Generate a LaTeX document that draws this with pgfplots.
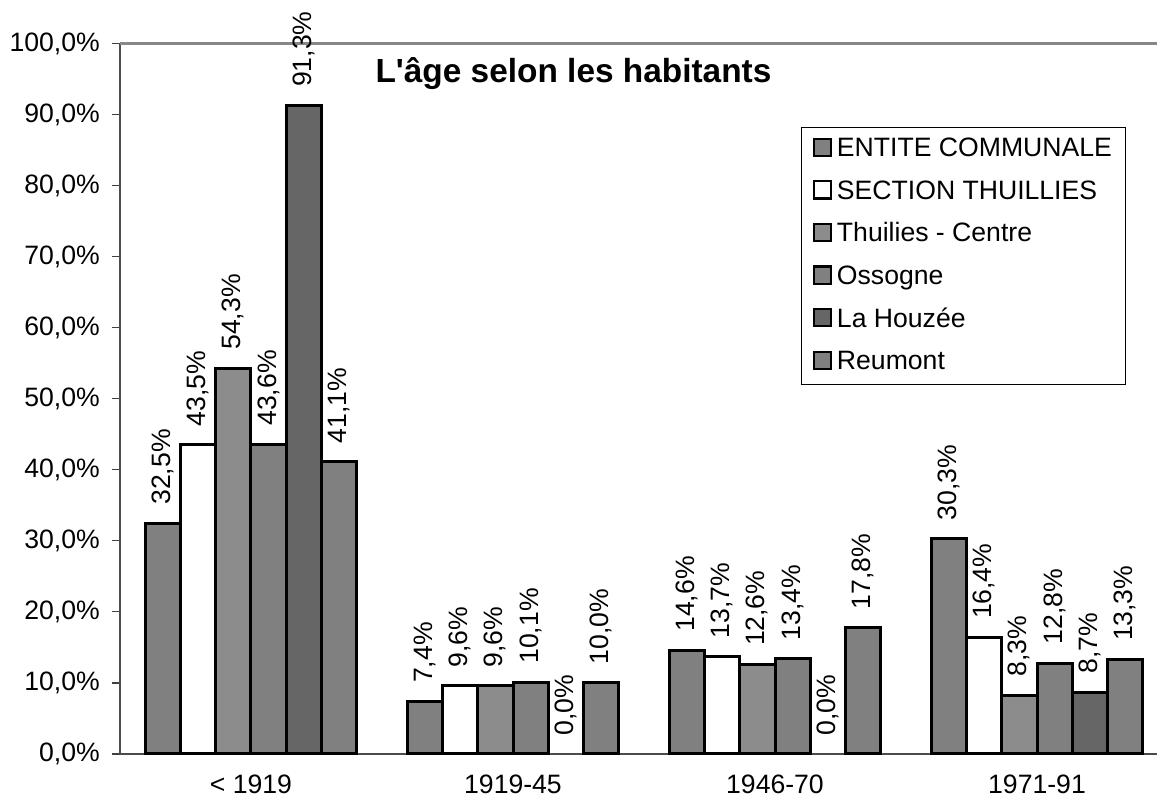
\documentclass[border=0pt]{standalone}
\usepackage{pgfplots}
\pgfplotsset{compat=1.18}
\usepackage{fontspec}
\setmainfont{Liberation Sans}
\definecolor{cA}{HTML}{808080}
\definecolor{cC}{HTML}{8C8C8C}
\definecolor{cD}{HTML}{666666}
\definecolor{topline}{HTML}{888888}
\newcommand{\lblfont}{\fontsize{13.3}{16}\selectfont}

\pgfplotsset{
  mybar/.style={
    ybar, bar width=17.65pt, draw=black, line width=1.5pt, bar shift=#1,
    nodes near coords={\pgfmathprintnumber[fixed,fixed zerofill,precision=1,use comma]{\pgfplotspointmeta}\%},
    every node near coord/.append style={xshift=#1, font=\lblfont, text=black, rotate=90, anchor=west, inner xsep=8.5pt, inner ysep=0pt},
    legend image code/.code={\draw[##1,draw=black,line width=1.1pt] (0pt,-3.1pt) rectangle (8.6pt,5.5pt);}
  }
}

\begin{document}
\begin{tikzpicture}
\begin{axis}[
  scale only axis,
  width=518.5pt, height=355.25pt,
  xmin=-0.5, xmax=3.458,
  ymin=0, ymax=100,
  clip=false,
  /pgf/number format/assume math mode=true,
  axis x line*=bottom, axis y line*=left,
  axis line style={-, draw=black!70, line width=0.6pt},
  tick align=outside,
  major tick length=4pt,
  tick style={draw=black!75, line width=0.6pt},
  ytick={0,10,...,100},
  yticklabel={\pgfmathprintnumber[fixed,fixed zerofill,precision=1,use comma]{\tick}\%},
  yticklabel style={font=\lblfont, xshift=-2.6pt},
  xtick={0,1,2,3},
  xticklabels={< 1919,1919-45,1946-70,1971-91},
  x tick style={draw=none},
  xticklabel style={font=\lblfont, yshift=-5.5pt, inner ysep=1pt},
  extra x ticks={-0.5,0.5,1.5,2.5},
  extra x tick labels={},
  extra x tick style={tick align=center, major tick length=8.5pt},
  legend cell align=left,
  legend style={at={(0.6567,0.8825)}, anchor=north west, draw=black, line width=0.6pt,
    fill=white, font=\lblfont, inner xsep=5.5pt, inner ysep=3.5pt,
    nodes={inner sep=1.5pt, text height=9.6pt, text depth=2.5pt},
    row sep=6.2pt, column sep=1pt},
]
\addplot[mybar=-44.125pt, fill=cA] coordinates {(0,32.5) (1,7.4) (2,14.6) (3,30.3)};
\addlegendentry{ENTITE COMMUNALE}
\addplot[mybar=-26.475pt, fill=white] coordinates {(0,43.5) (1,9.6) (2,13.7) (3,16.4)};
\addlegendentry{SECTION THUILLIES}
\addplot[mybar=-8.825pt, fill=cC] coordinates {(0,54.3) (1,9.6) (2,12.6) (3,8.3)};
\addlegendentry{Thuilies - Centre}
\addplot[mybar=8.825pt, fill=cA] coordinates {(0,43.6) (1,10.1) (2,13.4) (3,12.8)};
\addlegendentry{Ossogne}
\addplot[mybar=26.475pt, fill=cD] coordinates {(0,91.3) (3,8.7)};
\addlegendentry{La Houzée}
\addplot[mybar=44.125pt, fill=cA] coordinates {(0,41.1) (1,10.0) (2,17.8) (3,13.3)};
\addlegendentry{Reumont}
\addplot[mybar=26.475pt, draw=none, fill=none, forget plot] coordinates {(1,0.0) (2,0.0)};
\draw[topline, line width=1.5pt] (rel axis cs:0,1) -- (rel axis cs:1,1);
\node[font=\bfseries\fontsize{16.7}{20}\selectfont, anchor=base] at (rel axis cs:0.4373,0.9458) {L\textquotesingle âge selon les habitants};
\end{axis}
\pgfresetboundingbox
\useasboundingbox (-60pt,-24.5pt) rectangle (518.5pt,377pt);
\end{tikzpicture}
\end{document}
